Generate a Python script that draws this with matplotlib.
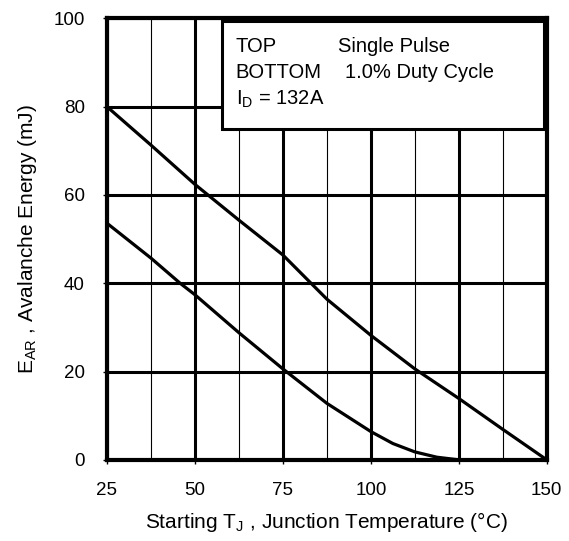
import numpy as np
import matplotlib
matplotlib.use("Agg")
import matplotlib.pyplot as plt
from matplotlib.ticker import MultipleLocator
from matplotlib.patches import Rectangle

plt.rcParams['font.family'] = ['Liberation Sans', 'DejaVu Sans']
plt.rcParams['mathtext.fontset'] = 'custom'
plt.rcParams['mathtext.rm'] = 'Liberation Sans'

# Single pulse (top curve)
tj_top = [25, 37.5, 50, 62.5, 75, 83, 87.5, 100, 112.5, 125, 137.5, 150]
ear_top = [80, 71.3, 62.4, 54.3, 46.4, 40, 36.4, 28.2, 20.6, 13.9, 6.9, 0]

# 1.0% duty cycle (bottom curve)
tj_bot = [25, 37.5, 45.8, 50, 62.5, 75, 87.5, 100, 106.25, 112.5, 118.75, 125]
ear_bot = [53.6, 45.7, 40, 37.4, 28.8, 20.6, 12.8, 6.4, 3.7, 1.8, 0.6, 0]

xticks = [25, 50, 75, 100, 125, 150]
yticks = [0, 20, 40, 60, 80, 100]

fig = plt.figure(figsize=(5.69, 5.41), dpi=100)
ax = fig.add_axes([0.188, 0.150, 0.773, 0.816])

ax.plot(tj_top, ear_top, color='black', lw=2.3, solid_capstyle='butt', zorder=3)
ax.plot(tj_bot, ear_bot, color='black', lw=2.3, solid_capstyle='butt', zorder=3)

ax.set_xlim(25, 150)
ax.set_ylim(0, 100)
ax.set_xticks(xticks)
ax.set_yticks(yticks)
ax.xaxis.set_minor_locator(MultipleLocator(12.5))

ax.grid(which='major', color='black', lw=2.2)
ax.grid(which='minor', axis='x', color='black', lw=0.8)
ax.set_axisbelow(True)

for s in ax.spines.values():
    s.set_linewidth(3.0)

ax.tick_params(which='major', direction='out', length=3, width=1,
               labelsize=13.5, pad=13)
ax.tick_params(which='minor', length=0)

ax.set_xlabel(r'Starting T$_\mathregular{J}$ , Junction Temperature (°C)',
              fontsize=15, labelpad=8)
ax.set_ylabel(r'E$_\mathregular{AR}$ , Avalanche Energy (mJ)',
              fontsize=15, labelpad=10)

# annotation box
ax.add_patch(Rectangle((0.261, 0.749), 0.732, 0.244, transform=ax.transAxes,
                       fc='white', ec='black', lw=2.2, zorder=5))
fs = 14.5
ax.text(0.293, 0.924, 'TOP', transform=ax.transAxes, fontsize=fs,
        va='baseline', zorder=6)
ax.text(0.525, 0.924, 'Single Pulse', transform=ax.transAxes, fontsize=fs,
        va='baseline', zorder=6)
ax.text(0.293, 0.865, 'BOTTOM', transform=ax.transAxes, fontsize=fs,
        va='baseline', zorder=6)
ax.text(0.541, 0.865, '1.0% Duty Cycle', transform=ax.transAxes, fontsize=fs,
        va='baseline', zorder=6)
ax.text(0.293, 0.805, r'I$_\mathregular{D}$ = 132A', transform=ax.transAxes,
        fontsize=fs, va='baseline', zorder=6)

fig.savefig('out.png', dpi=100)
